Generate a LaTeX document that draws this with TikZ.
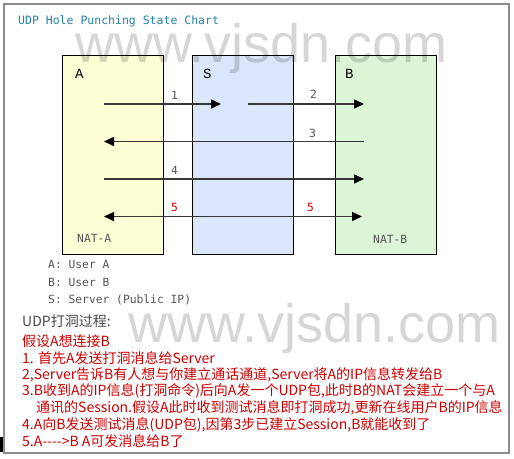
\documentclass[tikz,border=0pt]{standalone}
\usepackage{fontspec}
\usepackage{tikz}
\usetikzlibrary{arrows.meta, positioning}
\newfontfamily\cjk{Noto Sans CJK SC}
\newfontfamily\lblfont{DejaVu Sans Mono}
\newfontfamily\boxfont{Liberation Mono}
\newfontfamily\markfont{Liberation Sans}
\definecolor{titleblue}{RGB}{36, 130, 172}
\definecolor{fillA}{RGB}{253, 253, 214}
\definecolor{fillS}{RGB}{219, 230, 250}
\definecolor{fillB}{RGB}{220, 245, 214}
\definecolor{noteRed}{RGB}{204, 0, 0}
\definecolor{lineGray}{RGB}{55, 55, 55}
\definecolor{textGray}{RGB}{85, 85, 85}
\begin{document}
\begin{tikzpicture}[x=1pt, y=-1pt,
  natbox/.style={draw=black, line width=1pt, minimum width=101pt, minimum height=199pt, anchor=north west, inner sep=0pt},
  boxname/.style={font=\boxfont\fontsize{14}{14}\selectfont, anchor=base west, inner sep=0pt},
  tip/.tip={Triangle[length=10pt, width=9pt, fill=black, color=black]},
  msg/.style={draw=lineGray, line width=1.5pt, -tip},
  msglbl/.style={font=\lblfont\fontsize{11.3}{11.3}\selectfont, text=textGray, anchor=base west, inner sep=0pt},
  legend/.style={font=\lblfont\fontsize{11.3}{11.3}\selectfont, text=textGray, anchor=base west, inner sep=0pt},
  step line/.style={font=\cjk\fontsize{14}{14}\selectfont, text=noteRed, anchor=base west, inner sep=0pt},
  watermark/.style={font=\markfont\fontsize{54}{54}\selectfont, text=black, opacity=0.16, anchor=base west, inner sep=0pt}
]
  \useasboundingbox (0,0) rectangle (514,458);
  \fill[white] (0,0) rectangle (514,458);
  \draw[gray!90, line width=2pt] (3.5,3.5) rectangle (508.5,452.5);
  \fill[black] (0,437) rectangle (2.5,452);

  \node[font=\lblfont\fontsize{11.5}{11.5}\selectfont, text=titleblue, anchor=base west, inner sep=0pt] (title) at (18,24) {UDP Hole Punching State Chart};

  \node[natbox, fill=fillA] (boxA) at (61.5,54.5) {};
  \node[natbox, fill=fillS] (boxS) at (191.5,54.5) {};
  \node[natbox, fill=fillB] (boxB) at (334.5,54.5) {};

  \node[boxname] (nameA) at (75,78) {A};
  \node[boxname] (nameS) at (203,78) {S};
  \node[boxname] (nameB) at (345,78) {B};

  \coordinate (a1) at (104,104);  \coordinate (s1) at (221,104);
  \coordinate (s2) at (248,104);  \coordinate (b2) at (364,104);
  \coordinate (b3) at (364,141.5); \coordinate (a3) at (104,141.5);
  \coordinate (a4) at (104,179);  \coordinate (b4) at (364,179);
  \coordinate (a5) at (104,216.5); \coordinate (b5) at (362,216.5);

  \draw[msg] (a1) -- (s1);
  \draw[msg] (s2) -- (b2);
  \draw[msg] (b3) -- (a3);
  \draw[msg] (a4) -- (b4);
  \draw[msg, tip-tip] (a5) -- (b5);

  \node[msglbl] (lbl1) at (171,99) {1};
  \node[msglbl] (lbl2) at (310,98) {2};
  \node[msglbl] (lbl3) at (309,137) {3};
  \node[msglbl] (lbl4) at (171,174) {4};
  \node[msglbl, text=noteRed] (lbl5a) at (171,211) {5};
  \node[msglbl, text=noteRed] (lbl5b) at (307,211) {5};

  \node[msglbl] (natA) at (77,242) {NAT-A};
  \node[msglbl] (natB) at (373,243) {NAT-B};

  \node[legend] (legA) at (48,268) {A: User A};
  \node[legend] (legB) at (48,286) {B: User B};
  \node[legend] (legS) at (48,303) {S: Server (Public IP)};

  \node[step line, text=textGray!85!black] (steps) at (22,326) {UDP打洞过程:};
  \node[step line] (step0) at (22,346) {假设A想连接B};
  \node[step line] (step1) at (22,363) {1. 首先A发送打洞消息给Server};
  \node[step line] (step2) at (22,379) {2,Server告诉B有人想与你建立通话通道,Server将A的IP信息转发给B};
  \node[step line] (step3) at (22,395) {3.B收到A的IP信息(打洞命令)后向A发一个UDP包,此时B的NAT会建立一个与A};
  \node[step line] (step3b) at (36,412) {通讯的Session.假设A此时收到测试消息即打洞成功,更新在线用户B的IP信息};
  \node[step line] (step4) at (22,429) {4.A向B发送测试消息(UDP包),因第3步已建立Session,B就能收到了};
  \node[step line] (step5) at (22,446) {5.A---->B A可发消息给B了};

  \node[watermark] (markTop) at (75,62) {www.vjsdn.com};
  \node[watermark] (markBot) at (128,342) {www.vjsdn.com};
\end{tikzpicture}
\end{document}
